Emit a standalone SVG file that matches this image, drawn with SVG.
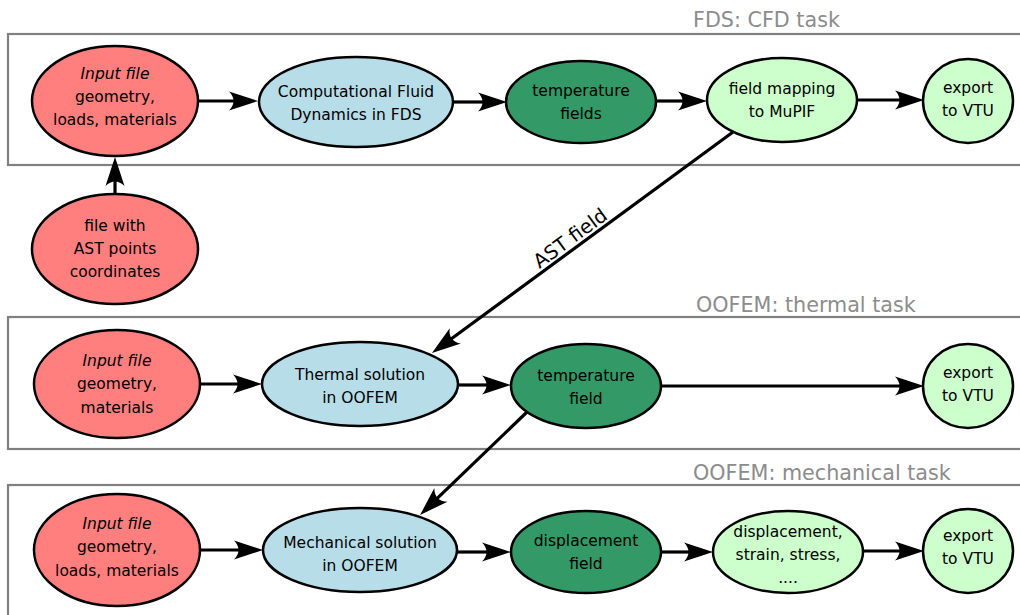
<svg xmlns="http://www.w3.org/2000/svg" width="1020" height="615" viewBox="0 0 1020 615">
<style>
text{font-family:"DejaVu Sans",sans-serif;fill:#000}
.t{font-size:15.5px;text-anchor:middle}
.i{font-style:italic}
.title{font-size:20.7px;fill:#8c8c8c}
.box{fill:none;stroke:#808080;stroke-width:2.2}
.n{stroke:#000;stroke-width:2.5}
.red{fill:#ff7f7f}
.blue{fill:#b7dde8}
.dg{fill:#339966}
.lg{fill:#ccffcc}
.c{fill:none;stroke:#000;stroke-width:3.2;marker-end:url(#ah)}
</style>
<defs>
<marker id="ah" markerUnits="userSpaceOnUse" orient="auto" refX="0" refY="0" markerWidth="40" markerHeight="30" viewBox="-10 -15 40 30" overflow="visible">
<path d="M22,0 L-7,-9.5 C-1,-3.5 -1,3.5 -7,9.5 Z" fill="#000"/>
</marker>
</defs>
<g id="boxes">
<rect class="box" x="8" y="34" width="1030" height="131"/>
<rect class="box" x="8" y="317" width="1030" height="132"/>
<rect class="box" x="8" y="485" width="1030" height="200"/>
<text class="title" x="693" y="27">FDS: CFD task</text>
<text class="title" x="696" y="312">OOFEM: thermal task</text>
<text class="title" x="693" y="480">OOFEM: mechanical task</text>
</g>
<g id="connectors">
<line class="c" x1="198" y1="101" x2="236" y2="101"/>
<line class="c" x1="453" y1="102" x2="485" y2="102"/>
<line class="c" x1="656" y1="101" x2="685" y2="101"/>
<line class="c" x1="857" y1="100" x2="902" y2="100"/>
<line class="c" x1="115" y1="194" x2="115" y2="179"/>
<line class="c" x1="733" y1="132" x2="449.7" y2="340"/>
<text x="0" y="0" font-size="19.5" text-anchor="middle" transform="translate(570,238) rotate(-36.3)" dy="7">AST field</text>
<line class="c" x1="200" y1="384" x2="240" y2="384"/>
<line class="c" x1="458" y1="385" x2="489" y2="385"/>
<line class="c" x1="661" y1="386" x2="902" y2="386"/>
<line class="c" x1="527" y1="412" x2="435.9" y2="499.7"/>
<line class="c" x1="199" y1="550" x2="241" y2="550"/>
<line class="c" x1="457" y1="552" x2="489" y2="552"/>
<line class="c" x1="661" y1="552" x2="691" y2="552"/>
<line class="c" x1="863" y1="551" x2="902" y2="551"/>
</g>
<g id="input1">
<ellipse class="n red" cx="115" cy="101" rx="83" ry="55"/>
<text class="t i" x="115" y="79">Input file</text>
<text class="t" x="115" y="102">geometry,</text>
<text class="t" x="115" y="125">loads, materials</text>
</g>
<g id="cfd">
<ellipse class="n blue" cx="356" cy="102" rx="97" ry="45"/>
<text class="t" x="356" y="97">Computational Fluid</text>
<text class="t" x="356" y="120">Dynamics in FDS</text>
</g>
<g id="tempfields">
<ellipse class="n dg" cx="581" cy="102" rx="75" ry="41"/>
<text class="t" x="581" y="96">temperature</text>
<text class="t" x="581" y="119">fields</text>
</g>
<g id="mapping">
<ellipse class="n lg" cx="782" cy="100" rx="75" ry="42"/>
<text class="t" x="782" y="94">field mapping</text>
<text class="t" x="782" y="117">to MuPIF</text>
</g>
<g id="export1">
<ellipse class="n lg" cx="968" cy="101" rx="45" ry="42"/>
<text class="t" x="968" y="93">export</text>
<text class="t" x="968" y="116">to VTU</text>
</g>
<g id="astfile">
<ellipse class="n red" cx="115" cy="249" rx="83" ry="55"/>
<text class="t" x="115" y="231">file with</text>
<text class="t" x="115" y="254">AST points</text>
<text class="t" x="115" y="277">coordinates</text>
</g>
<g id="input2">
<ellipse class="n red" cx="117" cy="384" rx="83" ry="54"/>
<text class="t i" x="117" y="366">Input file</text>
<text class="t" x="117" y="389">geometry,</text>
<text class="t" x="117" y="413">materials</text>
</g>
<g id="thermal">
<ellipse class="n blue" cx="360" cy="384" rx="98" ry="42"/>
<text class="t" x="360" y="380">Thermal solution</text>
<text class="t" x="360" y="403">in OOFEM</text>
</g>
<g id="tempfield">
<ellipse class="n dg" cx="586" cy="386" rx="75" ry="42"/>
<text class="t" x="586" y="381">temperature</text>
<text class="t" x="586" y="404">field</text>
</g>
<g id="export2">
<ellipse class="n lg" cx="968" cy="386" rx="45" ry="42"/>
<text class="t" x="968" y="378">export</text>
<text class="t" x="968" y="401">to VTU</text>
</g>
<g id="input3">
<ellipse class="n red" cx="117" cy="550" rx="83" ry="56"/>
<text class="t i" x="117" y="529">Input file</text>
<text class="t" x="117" y="552">geometry,</text>
<text class="t" x="117" y="576">loads, materials</text>
</g>
<g id="mechanical">
<ellipse class="n blue" cx="360" cy="550" rx="97" ry="42"/>
<text class="t" x="360" y="548">Mechanical solution</text>
<text class="t" x="360" y="571">in OOFEM</text>
</g>
<g id="dispfield">
<ellipse class="n dg" cx="586" cy="552" rx="75" ry="41"/>
<text class="t" x="586" y="546">displacement</text>
<text class="t" x="586" y="569">field</text>
</g>
<g id="results">
<ellipse class="n lg" cx="788" cy="552" rx="75" ry="41"/>
<text class="t" x="788" y="537">displacement,</text>
<text class="t" x="788" y="560">strain, stress,</text>
<text class="t" x="788" y="583">....</text>
</g>
<g id="export3">
<ellipse class="n lg" cx="968" cy="551" rx="45" ry="42"/>
<text class="t" x="968" y="541">export</text>
<text class="t" x="968" y="564">to VTU</text>
</g>
</svg>
